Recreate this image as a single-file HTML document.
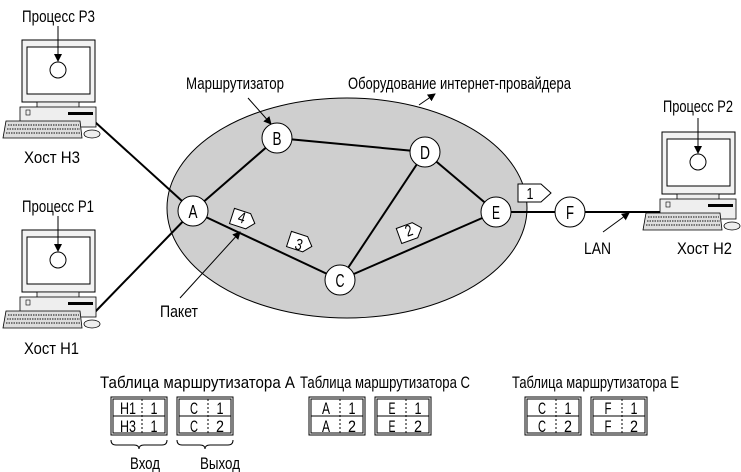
<!DOCTYPE html>
<html><head><meta charset="utf-8"><style>
html,body{margin:0;padding:0;background:#fff;}
svg{display:block;}
text{font-family:"Liberation Sans",sans-serif;fill:#000;}
</style></head><body>
<svg width="741" height="472" viewBox="0 0 741 472" xmlns="http://www.w3.org/2000/svg">
<defs>
<marker id="ah" markerWidth="8" markerHeight="8" refX="7" refY="4" orient="auto" markerUnits="userSpaceOnUse">
<path d="M0,0 L8,4 L0,8 z" fill="#000"/></marker>
<g id="pc">
  <rect x="22" y="40" width="73" height="62" fill="#f2f2f2" stroke="#000" stroke-width="1"/>
  <rect x="27" y="47" width="63" height="47" fill="#fff" stroke="#000" stroke-width="1"/>
  <circle cx="58" cy="70" r="8" fill="#fff" stroke="#000"/>
  <rect x="37" y="102" width="42" height="6" fill="#eee" stroke="#000" stroke-width="0.8"/>
  <rect x="20" y="107" width="76" height="20" fill="#eee" stroke="#000" stroke-width="0.8"/>
  <rect x="68" y="112" width="25" height="3" fill="#000"/>
  <rect x="26" y="110" width="4" height="5" fill="none" stroke="#000" stroke-width="0.6"/>
  <path d="M6,121 L80,121 L82,138 L3,138 z" fill="#ddd" stroke="#000" stroke-width="0.8"/>
  <path d="M8,125 L79,125 M7,129 L80,129 M6,133 L81,133" stroke="#555" stroke-width="1.5" stroke-dasharray="1.5 1"/>
  <ellipse cx="92" cy="134" rx="8" ry="4" fill="#eee" stroke="#000" stroke-width="0.8"/>
</g>
</defs>

<ellipse cx="347" cy="208" rx="180" ry="110" fill="#cfcfcf" stroke="#000" stroke-width="1"/>

<g stroke="#000" stroke-width="2" fill="none">
<line x1="95" y1="122" x2="193" y2="211"/>
<line x1="95" y1="312" x2="193" y2="211"/>
<line x1="193" y1="211" x2="277" y2="138"/>
<line x1="277" y1="138" x2="425" y2="152"/>
<line x1="425" y1="152" x2="496" y2="212"/>
<line x1="425" y1="152" x2="340" y2="280"/>
<line x1="193" y1="211" x2="340" y2="280"/>
<line x1="340" y1="280" x2="496" y2="212"/>
<line x1="496" y1="212" x2="570" y2="212"/>
<line x1="570" y1="212" x2="662" y2="212"/>
</g>

<use href="#pc"/>
<use href="#pc" y="190"/>
<use href="#pc" x="640" y="92"/>

<g stroke="#000" stroke-width="1" marker-end="url(#ah)">
<line x1="58" y1="26" x2="58" y2="61"/>
<line x1="58" y1="216" x2="58" y2="251"/>
<line x1="698" y1="118" x2="698" y2="153"/>
<line x1="248" y1="98" x2="271" y2="124"/>
<line x1="419" y1="105" x2="435" y2="94"/>
<line x1="180" y1="298" x2="240" y2="232"/>
<line x1="603" y1="232" x2="629" y2="213"/>
</g>

<g fill="#fff" stroke="#000" stroke-width="1">
<circle cx="193" cy="211" r="15"/>
<circle cx="277" cy="138" r="15"/>
<circle cx="425" cy="152" r="15"/>
<circle cx="340" cy="280" r="15"/>
<circle cx="496" cy="212" r="15"/>
<circle cx="570" cy="212" r="15"/>
</g>
<g text-anchor="middle" font-size="18">
<text x="193" y="218" textLength="9" lengthAdjust="spacingAndGlyphs">A</text><text x="277" y="145" textLength="9" lengthAdjust="spacingAndGlyphs">B</text><text x="425" y="159" textLength="10" lengthAdjust="spacingAndGlyphs">D</text>
<text x="340" y="287" textLength="9" lengthAdjust="spacingAndGlyphs">C</text><text x="496" y="219" textLength="8" lengthAdjust="spacingAndGlyphs">E</text><text x="570" y="219" textLength="8" lengthAdjust="spacingAndGlyphs">F</text>
</g>

<g fill="#fff" stroke="#000" stroke-width="1">
<path d="M0,-8 L17,-8 L24,0 L17,8 L0,8 z" transform="translate(232,216) rotate(18)"/>
<path d="M0,-8 L17,-8 L24,0 L17,8 L0,8 z" transform="translate(289,239) rotate(18)"/>
<path d="M0,-8 L17,-8 L24,0 L17,8 L0,8 z" transform="translate(399,236) rotate(-20)"/>
<path d="M518,184 L541,184 L551,193 L541,202 L518,202 z"/>
</g>
<g text-anchor="middle" font-size="16">
<text x="242" y="223" transform="rotate(18 242 217)" textLength="7" lengthAdjust="spacingAndGlyphs">4</text>
<text x="299" y="250" transform="rotate(18 299 244)" textLength="7" lengthAdjust="spacingAndGlyphs">3</text>
<text x="409" y="236" transform="rotate(-20 409 231)" textLength="7" lengthAdjust="spacingAndGlyphs">2</text>
<text x="530" y="199" textLength="7" lengthAdjust="spacingAndGlyphs">1</text>
</g>

<g font-size="17">
<text x="22" y="22" textLength="73" lengthAdjust="spacingAndGlyphs">Процесс Р3</text>
<text x="22" y="212" textLength="72" lengthAdjust="spacingAndGlyphs">Процесс Р1</text>
<text x="663" y="112" textLength="70" lengthAdjust="spacingAndGlyphs">Процесс  Р2</text>
<text x="24" y="163" textLength="56" lengthAdjust="spacingAndGlyphs">Хост Н3</text>
<text x="24" y="354" textLength="55" lengthAdjust="spacingAndGlyphs">Хост Н1</text>
<text x="677" y="254" textLength="55" lengthAdjust="spacingAndGlyphs">Хост Н2</text>
<text x="186" y="89" textLength="98" lengthAdjust="spacingAndGlyphs">Маршрутизатор</text>
<text x="348" y="89" textLength="223" lengthAdjust="spacingAndGlyphs">Оборудование интернет-провайдера</text>
<text x="160" y="317" textLength="38" lengthAdjust="spacingAndGlyphs">Пакет</text>
<text x="584" y="254" textLength="27" lengthAdjust="spacingAndGlyphs">LAN</text>
<text x="100" y="388" textLength="195" lengthAdjust="spacingAndGlyphs">Таблица маршрутизатора А</text>
<text x="300" y="388" textLength="170" lengthAdjust="spacingAndGlyphs">Таблица маршрутизатора С</text>
<text x="512" y="388" textLength="167" lengthAdjust="spacingAndGlyphs">Таблица маршрутизатора Е</text>
<text x="130" y="469" textLength="30" lengthAdjust="spacingAndGlyphs">Вход</text>
<text x="200" y="469" textLength="40" lengthAdjust="spacingAndGlyphs">Выход</text>
</g>

<g fill="none" stroke="#000" stroke-width="1">
<rect x="111" y="397" width="56" height="38"/><rect x="113" y="399" width="52" height="34"/><line x1="113" y1="416" x2="165" y2="416"/><line x1="142" y1="399" x2="142" y2="433" stroke-dasharray="2 2"/>
<rect x="177" y="397" width="56" height="38"/><rect x="179" y="399" width="52" height="34"/><line x1="179" y1="416" x2="231" y2="416"/><line x1="208" y1="399" x2="208" y2="433" stroke-dasharray="2 2"/>
<rect x="309" y="397" width="56" height="38"/><rect x="311" y="399" width="52" height="34"/><line x1="311" y1="416" x2="363" y2="416"/><line x1="340" y1="399" x2="340" y2="433" stroke-dasharray="2 2"/>
<rect x="375" y="397" width="56" height="38"/><rect x="377" y="399" width="52" height="34"/><line x1="377" y1="416" x2="429" y2="416"/><line x1="406" y1="399" x2="406" y2="433" stroke-dasharray="2 2"/>
<rect x="525" y="397" width="56" height="38"/><rect x="527" y="399" width="52" height="34"/><line x1="527" y1="416" x2="579" y2="416"/><line x1="556" y1="399" x2="556" y2="433" stroke-dasharray="2 2"/>
<rect x="591" y="397" width="56" height="38"/><rect x="593" y="399" width="52" height="34"/><line x1="593" y1="416" x2="645" y2="416"/><line x1="622" y1="399" x2="622" y2="433" stroke-dasharray="2 2"/>
<path d="M111,440 Q111,445 116,445 L134,445 Q139,445 139,449 Q139,445 144,445 L162,445 Q167,445 167,440"/>
<path d="M177,440 Q177,445 182,445 L200,445 Q205,445 205,449 Q205,445 210,445 L228,445 Q233,445 233,440"/>
</g>
<g text-anchor="middle" font-size="17">
<text x="128" y="414" textLength="16" lengthAdjust="spacingAndGlyphs">H1</text><text x="154" y="414" textLength="7" lengthAdjust="spacingAndGlyphs">1</text><text x="128" y="432" textLength="16" lengthAdjust="spacingAndGlyphs">H3</text><text x="154" y="432" textLength="7" lengthAdjust="spacingAndGlyphs">1</text>
<text x="194" y="414" textLength="8" lengthAdjust="spacingAndGlyphs">C</text><text x="220" y="414" textLength="7" lengthAdjust="spacingAndGlyphs">1</text><text x="194" y="432" textLength="8" lengthAdjust="spacingAndGlyphs">C</text><text x="220" y="432" textLength="8" lengthAdjust="spacingAndGlyphs">2</text>
<text x="326" y="414" textLength="8" lengthAdjust="spacingAndGlyphs">A</text><text x="352" y="414" textLength="7" lengthAdjust="spacingAndGlyphs">1</text><text x="326" y="432" textLength="8" lengthAdjust="spacingAndGlyphs">A</text><text x="352" y="432" textLength="8" lengthAdjust="spacingAndGlyphs">2</text>
<text x="392" y="414" textLength="7" lengthAdjust="spacingAndGlyphs">E</text><text x="418" y="414" textLength="7" lengthAdjust="spacingAndGlyphs">1</text><text x="392" y="432" textLength="7" lengthAdjust="spacingAndGlyphs">E</text><text x="418" y="432" textLength="8" lengthAdjust="spacingAndGlyphs">2</text>
<text x="542" y="414" textLength="8" lengthAdjust="spacingAndGlyphs">C</text><text x="568" y="414" textLength="7" lengthAdjust="spacingAndGlyphs">1</text><text x="542" y="432" textLength="8" lengthAdjust="spacingAndGlyphs">C</text><text x="568" y="432" textLength="8" lengthAdjust="spacingAndGlyphs">2</text>
<text x="608" y="414" textLength="7" lengthAdjust="spacingAndGlyphs">F</text><text x="634" y="414" textLength="7" lengthAdjust="spacingAndGlyphs">1</text><text x="608" y="432" textLength="7" lengthAdjust="spacingAndGlyphs">F</text><text x="634" y="432" textLength="8" lengthAdjust="spacingAndGlyphs">2</text>
</g>
</svg>
</body></html>
